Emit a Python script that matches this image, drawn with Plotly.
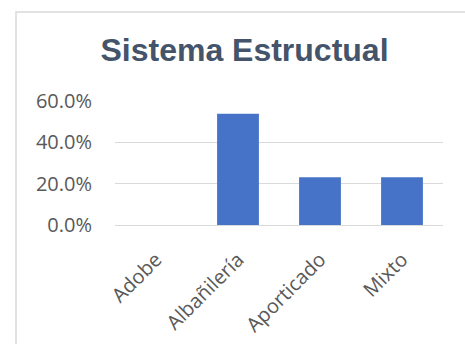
import plotly.graph_objects as go

categories = ["Adobe", "Albañilería", "Aporticado", "Mixto"]
values = [0.0, 53.8, 23.1, 23.1]
y_ticks = [0, 20, 40, 60]
y_tick_labels = ["0.0%", "20.0%", "40.0%", "60.0%"]

W, H = 465, 344
L, R, T, B = 115, 22, 101, 119

fig = go.Figure()
fig.add_trace(go.Bar(
    x=categories, y=values,
    marker=dict(color="#4673C7", line=dict(width=0)),
    width=0.51,
))

pw = W - L - R
ph = H - T - B
fig.add_shape(type="rect", xref="paper", yref="paper",
              x0=(16 - L) / pw, x1=(480 - L) / pw,
              y0=-(H + 10 - T - ph) / ph, y1=(T + ph - 12) / ph,
              line=dict(color="#D9D9D9", width=1.5), fillcolor="rgba(0,0,0,0)", layer="below")

fig.update_layout(
    width=W, height=H,
    margin=dict(l=L, r=R, t=T, b=B, autoexpand=False),
    paper_bgcolor="white", plot_bgcolor="white",
    showlegend=False,
    title=dict(text="<b>Sistema Estructual</b>", x=(244.5) / W, xanchor="center",
               y=1 - 50 / H, yanchor="middle",
               font=dict(family="Liberation Sans, Arial", size=32, color="#44546A")),
    font=dict(family="Open Sans", size=20, color="#595959"),
    bargap=0.49,
)
fig.update_yaxes(range=[0, 60], tickvals=y_ticks, ticktext=y_tick_labels,
                 showgrid=True, gridcolor="#D9D9D9", gridwidth=1.3,
                 zeroline=True, zerolinecolor="#D9D9D9", zerolinewidth=1.3,
                 showline=False, ticklabelstandoff=22, automargin=False,
                 tickfont=dict(family="Open Sans", size=20, color="#595959"))
fig.update_xaxes(tickangle=-45, showgrid=False, showline=False,
                 ticklabelstandoff=18, automargin=False,
                 tickfont=dict(family="Open Sans", size=20, color="#595959"))

fig.write_html("out.html")
